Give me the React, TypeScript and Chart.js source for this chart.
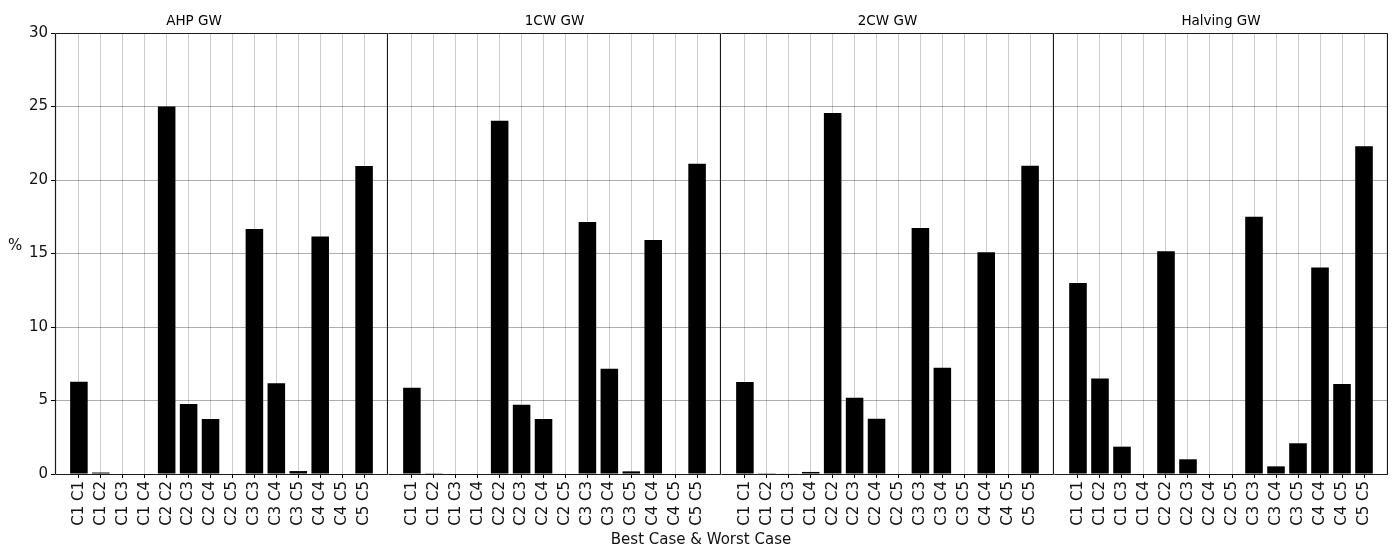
import React, { useEffect, useRef } from "react";
import { Chart, registerables } from "chart.js";

Chart.register(...registerables);

const categories = [
  "C1 C1", "C1 C2", "C1 C3", "C1 C4", "C2 C2", "C2 C3", "C2 C4",
  "C2 C5", "C3 C3", "C3 C4", "C3 C5", "C4 C4", "C4 C5", "C5 C5",
];
const panelTitles = ["AHP GW", "1CW GW", "2CW GW", "Halving GW"];
const ahpValues = [6.28, 0.1, 0, 0, 25.0, 4.76, 3.74, 0, 16.67, 6.17, 0.2, 16.15, 0, 20.95];
const oneCwValues = [5.87, 0.05, 0, 0, 24.03, 4.71, 3.74, 0, 17.14, 7.16, 0.18, 15.92, 0, 21.11];
const twoCwValues = [6.26, 0.05, 0.03, 0.14, 24.56, 5.19, 3.76, 0, 16.73, 7.23, 0, 15.08, 0, 20.97];
const halvingValues = [12.99, 6.49, 1.86, 0, 15.15, 1.0, 0, 0, 17.5, 0.52, 2.09, 14.04, 6.12, 22.29];
const yMin = 0;
const yMax = 30;
const yStep = 5;
const yLabel = "%";
const xLabel = "Best Case & Worst Case";

const seriesList = [ahpValues, oneCwValues, twoCwValues, halvingValues];

const FONT = "'DejaVu Sans', 'Liberation Sans', sans-serif";

const framePlugin = {
  id: "frame",
  afterDatasetsDraw(chart: any, _args: any, opts: any) {
    const { ctx, chartArea: a } = chart;
    ctx.save();
    ctx.strokeStyle = "#1a1a1a";
    ctx.lineWidth = 1.2;
    const l = Math.round(a.left) + 0.5;
    const r = Math.round(a.right) - 0.5;
    const t = Math.round(a.top) + 0.5;
    const b = Math.round(a.bottom) + 0.5;
    ctx.beginPath();
    ctx.moveTo(l, t);
    ctx.lineTo(r, t);
    ctx.moveTo(r, t);
    ctx.lineTo(r, b);
    ctx.moveTo(l, b);
    ctx.lineTo(r, b);
    if (opts && opts.left) {
      ctx.moveTo(l, t);
      ctx.lineTo(l, b);
    }
    ctx.stroke();
    ctx.restore();
  },
};

function Panel(props: { index: number; left: number; width: number }) {
  const ref = useRef<HTMLCanvasElement | null>(null);
  const { index, left, width } = props;
  useEffect(() => {
    if (!ref.current) return;
    const values = seriesList[index];
    const first = index === 0;
    const chart = new Chart(ref.current, {
      type: "bar",
      data: {
        datasets: [
          {
            data: values.map((v, i) => ({ x: i, y: v })),
            backgroundColor: "#000000",
            borderColor: "#000000",
            borderWidth: 0,
            categoryPercentage: 1,
            barPercentage: 0.8,
          },
        ],
      },
      plugins: [framePlugin],
      options: {
        animation: false,
        responsive: false,
        maintainAspectRatio: false,
        layout: { padding: 0 },
        plugins: {
          legend: { display: false },
          tooltip: { enabled: false },
          title: {
            display: true,
            text: panelTitles[index],
            color: "#000",
            font: { family: FONT, size: 13.5, weight: "normal" as any, lineHeight: 1.2 },
            padding: { top: 13.4, bottom: 3.4 },
          },
          frame: { left: first },
        } as any,
        scales: {
          x: {
            type: "linear",
            min: -1.09,
            max: categories.length - 1 + 1.09,
            offset: false,
            bounds: "data",
            grid: {
              offset: false,
              color: "rgba(0,0,0,0.2)",
              lineWidth: 1,
              drawTicks: true,
              tickLength: 4,
              tickColor: "#000",
            },
            border: { display: false },
            afterBuildTicks: (scale: any) => {
              scale.ticks = categories.map((_, i) => ({ value: i }));
            },
            afterFit: (scale: any) => {
              scale.height = 74;
            },
            ticks: {
              autoSkip: false,
              minRotation: 90,
              maxRotation: 90,
              padding: 3,
              color: "#111",
              font: { family: FONT, size: 15 },
              callback: (v: any) => categories[v as number] ?? "",
            },
          },
          y: {
            min: yMin,
            max: yMax,
            grid: {
              color: "rgba(0,0,0,0.32)",
              lineWidth: 1,
              drawTicks: first,
              tickLength: 4,
              tickColor: "#000",
            },
            border: { display: false },
            afterFit: (scale: any) => {
              scale.width = first ? 55 : 0;
            },
            ticks: {
              display: first,
              stepSize: yStep,
              padding: 3,
              color: "#111",
              font: { family: FONT, size: 15 },
            },
          },
        },
      } as any,
    });
    return () => chart.destroy();
  }, [index]);
  return (
    <canvas
      ref={ref}
      width={width}
      height={548}
      style={{ position: "absolute", left, top: 0, width, height: 548 }}
    />
  );
}

export default function App() {
  const panels = [
    { left: 0, width: 388 },
    { left: 388, width: 333 },
    { left: 721, width: 333 },
    { left: 1054, width: 334 },
  ];
  return (
    <div
      style={{
        position: "absolute",
        left: 0,
        top: 0,
        width: 1394,
        height: 548,
        overflow: "hidden",
        background: "#fff",
        fontFamily: FONT,
      }}
    >
      {panels.map((p, i) => (
        <Panel key={i} index={i} left={p.left} width={p.width} />
      ))}
      <div
        style={{
          position: "absolute",
          left: 8,
          top: 236,
          fontSize: 15,
          lineHeight: "18px",
          color: "#111",
        }}
      >
        {yLabel}
      </div>
      <div
        style={{
          position: "absolute",
          left: 0,
          width: 1402,
          top: 530,
          textAlign: "center",
          fontSize: 15,
          lineHeight: "18px",
          color: "#111",
        }}
      >
        {xLabel}
      </div>
    </div>
  );
}
